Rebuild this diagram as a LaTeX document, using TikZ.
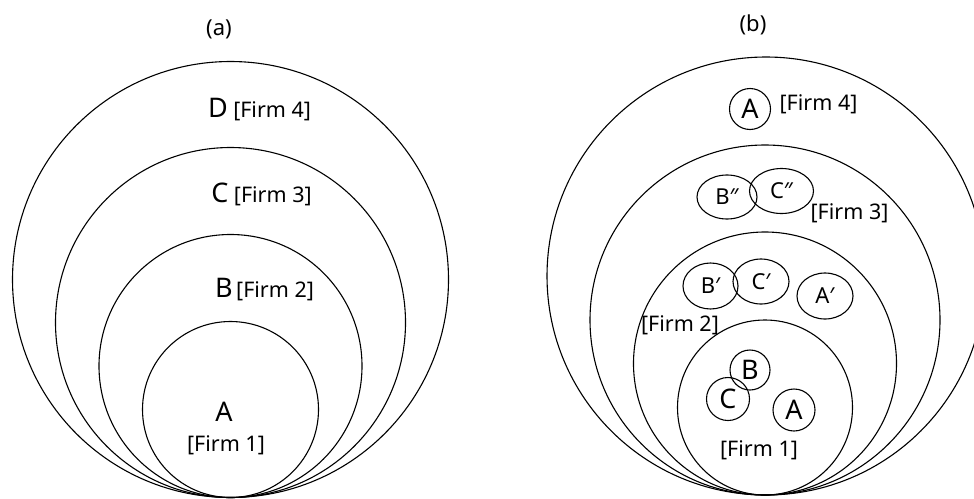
\documentclass[tikz,border=0pt]{standalone}
\usepackage{fontspec}
\setmainfont{Noto Sans}
\usetikzlibrary{positioning,shapes.geometric}
\tikzset{ring/.style={draw, line width=1.1pt},
  letter/.style={inner sep=0pt, font=\fontsize{27}{32}\selectfont},
  firm/.style={inner sep=0pt, font=\fontsize{21.5}{26}\selectfont},
  title/.style={inner sep=0pt, font=\fontsize{22}{26}\selectfont},
  unit/.style={draw, line width=1.1pt, circle, inner sep=0pt, minimum size=41pt, font=\fontsize{27}{32}\selectfont},
  part/.style={draw, line width=1.1pt, ellipse, inner sep=0pt, font=\fontsize{22}{26}\selectfont}}

\begin{document}
\begin{tikzpicture}[x=1pt, y=-1pt]
  \useasboundingbox (0,0) rectangle (974,498);
  % (a)
  \node (ta) [title] at (219,29) {(a)};
  \draw[ring] (230.5,279.5) circle [radius=218pt];
  \draw[ring] (230.5,322.5) circle [radius=175pt];
  \draw[ring] (230.5,366) circle [radius=131.5pt];
  \draw[ring] (230.5,409.5) circle [radius=88pt];
  \node (Da) [letter] at (218,108) {D};
  \node (F4a) [firm, base right=5pt of Da] {[Firm 4]};
  \node (Ca) [letter] at (220,193) {C};
  \node (F3a) [firm, base right=5pt of Ca] {[Firm 3]};
  \node (Ba) [letter] at (224,288) {B};
  \node (F2a) [firm, base right=3pt of Ba] {[Firm 2]};
  \node (Aa) [letter] at (224,412) {A};
  \node (F1a) [firm] at (226,445) {[Firm 1]};
  % (b)
  \node (tb) [title] at (753,25) {(b)};
  \draw[ring] (766,276) circle [radius=219pt];
  \draw[ring] (765,320) circle [radius=175pt];
  \draw[ring] (765,363.5) circle [radius=131.5pt];
  \draw[ring] (765,407.5) circle [radius=87.5pt];
  \node (A4) [unit] at (750,109) {A};
  \node (F4b) [firm] at (818.5,104) {[Firm 4]};
  \node (B3) [part, minimum width=60pt, minimum height=44pt] at (727,197) {B″};
  \node (C3) [part, minimum width=64pt, minimum height=45pt] at (781.5,191) {C″};
  \node (F3b) [firm] at (849.5,213) {[Firm 3]};
  \node (B2) [part, minimum width=55pt, minimum height=46pt] at (710.5,286) {B′};
  \node (C2) [part, minimum width=56pt, minimum height=45pt] at (761,281.5) {C′};
  \node (A2) [part, minimum width=56pt, minimum height=46pt] at (825,296) {A′};
  \node (F2b) [firm] at (680,325) {[Firm 2]};
  \node (B1) [unit, minimum size=40pt] at (750,370) {B};
  \node (C1) [unit, minimum size=43pt] at (728,399) {C};
  \node (A1) [unit, minimum size=42pt] at (794,410) {A};
  \node (F1b) [firm] at (759,450) {[Firm 1]};
\end{tikzpicture}
\end{document}
